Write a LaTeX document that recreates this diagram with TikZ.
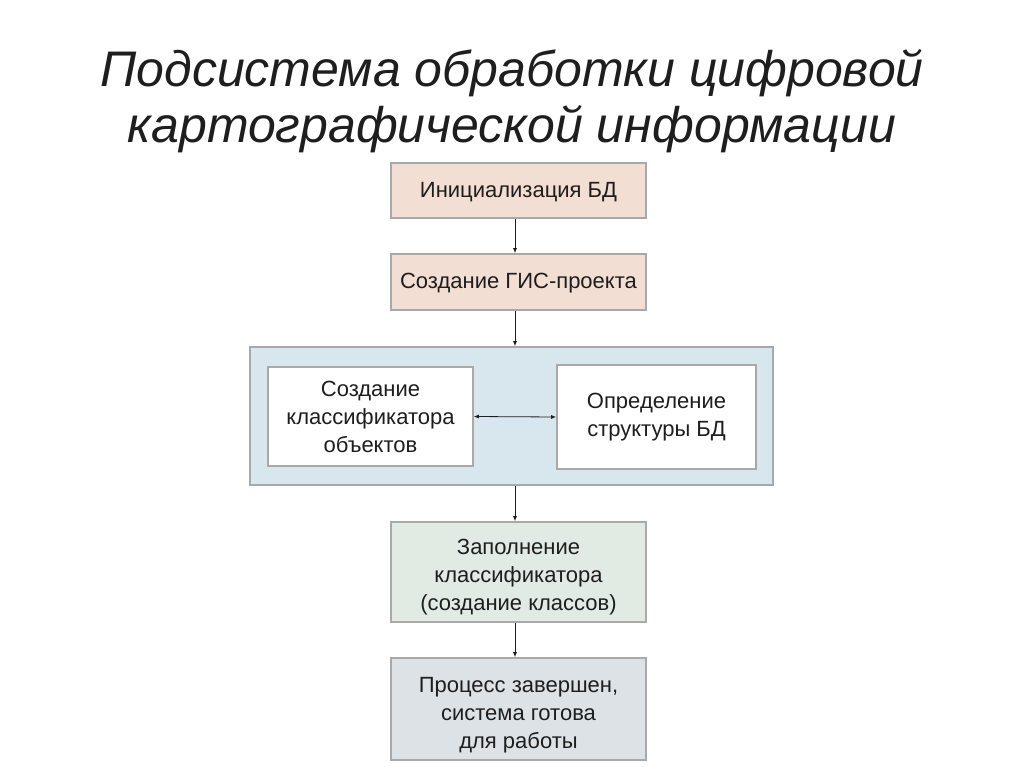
\documentclass[tikz,border=0pt]{standalone}
\usepackage{fontspec}
\setmainfont{Liberation Sans}
\usetikzlibrary{arrows.meta}
\definecolor{peach}{HTML}{F3DED4}
\definecolor{lblue}{HTML}{D8E6EE}
\definecolor{lgreen}{HTML}{E2EAE4}
\definecolor{lgray}{HTML}{DCE2E6}
\definecolor{edge}{HTML}{A9A9A9}
\definecolor{txt}{HTML}{1E1E1E}
\tikzset{
  box/.style={draw=edge, line width=1.6pt, text=txt, font=\fontsize{22}{28}\selectfont, align=center, inner sep=0pt},
  boxtext/.style={text=txt, font=\fontsize{22}{28}\selectfont, align=center, inner sep=0pt},
  conn/.style={draw=txt, line width=0.8pt, -{Latex[length=5pt,width=4pt]}},
  dconn/.style={draw=txt, line width=0.8pt, {Latex[length=5pt,width=4pt]}-{Latex[length=5pt,width=4pt]}},
}
\begin{document}
\begin{tikzpicture}[x=1pt,y=-1pt]
\useasboundingbox (0,0) rectangle (1024,767);
\fill[white] (0,0) rectangle (1024,767);
\node[font=\itshape\fontsize{50}{56}\selectfont, text=txt, align=center] (title) at (512,101) {Подсистема обработки цифровой\\картографической информации};
\node[box, fill=peach, minimum width=255pt, minimum height=55pt] (b1) at (518.5,190.5) {};
\node[boxtext] (b1t) at (518.5,192) {Инициализация БД};
\node[box, fill=peach, minimum width=255pt, minimum height=56pt] (b2) at (518.5,282) {};
\node[boxtext] (b2t) at (518.5,283) {Создание ГИС-проекта};
\node[box, fill=lblue, minimum width=523pt, minimum height=138pt] (c) at (511.5,416) {};
\node[box, fill=white, minimum width=205pt, minimum height=99pt] (l) at (370.5,416.5) {Создание\\классификатора\\объектов};
\node[box, fill=white, minimum width=199pt, minimum height=104pt] (r) at (656.5,417) {Определение\\структуры БД};
\node[box, fill=lgreen, minimum width=255pt, minimum height=100pt] (b4) at (518.5,572) {};
\node[boxtext] (b4t) at (518.5,577) {Заполнение\\классификатора\\(создание классов)};
\node[box, fill=lgray, minimum width=255pt, minimum height=102pt] (b5) at (518.5,709) {};
\node[boxtext] (b5t) at (518.5,715) {Процесс завершен,\\система готова\\для работы};
\draw[conn] (b1.south -| 515,0) -- (b2.north -| 515,0);
\draw[conn] (b2.south -| 515,0) -- (c.north -| 515,0);
\draw[conn] (c.south -| 515,0) -- (b4.north -| 515,0);
\draw[conn] (b4.south -| 515,0) -- (b5.north -| 515,0);
\draw[dconn] (l.east) -- (r.west);
\end{tikzpicture}
\end{document}
